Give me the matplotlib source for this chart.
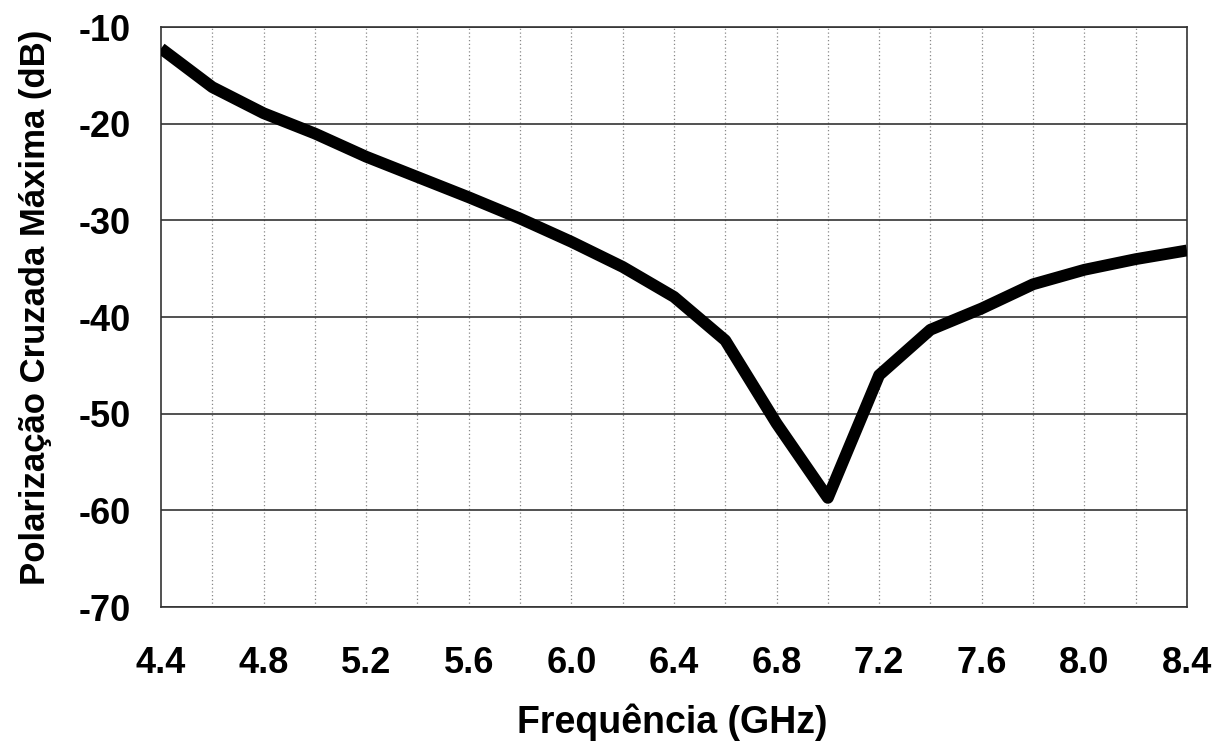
import numpy as np
import matplotlib
matplotlib.use('Agg')
import matplotlib.pyplot as plt

plt.rcParams['font.family'] = ['Liberation Sans', 'DejaVu Sans']
plt.rcParams['font.weight'] = 'bold'
plt.rcParams['axes.unicode_minus'] = False

# frequencia (GHz) e polarizacao cruzada maxima (dB)
freq = [4.4, 4.6, 4.8, 5.0, 5.2, 5.4, 5.6, 5.8, 6.0, 6.2, 6.4,
        6.6, 6.8, 7.0, 7.2, 7.4, 7.6, 7.8, 8.0, 8.2, 8.4]
xpol = [-12.2, -16.2, -18.9, -21.0, -23.4, -25.5, -27.6, -29.8, -32.2, -34.8, -37.9,
        -42.4, -51.0, -58.7, -46.0, -41.3, -39.1, -36.6, -35.1, -34.0, -33.1]

x_ticks = [4.4, 4.8, 5.2, 5.6, 6.0, 6.4, 6.8, 7.2, 7.6, 8.0, 8.4]
y_ticks = [-70, -60, -50, -40, -30, -20, -10]

fig = plt.figure(figsize=(12.17, 7.56), dpi=100)
ax = fig.add_axes([0.1323, 0.197, 0.8430, 0.767])

# grade vertical pontilhada a cada 0.2 GHz
for xv in np.arange(4.6, 8.4, 0.2):
    ax.axvline(xv, color='#888888', linestyle=(0, (1, 2)), linewidth=0.9, zorder=1)
for yv in y_ticks:
    ax.axhline(yv, color='#333333', linewidth=1.2, zorder=1)

ax.plot(freq, xpol, color='black', linewidth=8.5, solid_joinstyle='round',
        solid_capstyle='butt', zorder=3)

ax.set_xlim(4.4, 8.4)
ax.set_ylim(-70, -10)
ax.set_xticks(x_ticks)
ax.set_xticklabels([f'{v:.1f}' for v in x_ticks])
ax.set_yticks(y_ticks)
ax.tick_params(length=0, labelsize=26)
ax.tick_params(axis='x', pad=28)
ax.tick_params(axis='y', pad=22)
for lab in ax.get_xticklabels() + ax.get_yticklabels():
    lab.set_fontweight('bold')

for sp in ax.spines.values():
    sp.set_color('#333333')
    sp.set_linewidth(1.2)

ax.set_xlabel('Frequência (GHz)', fontsize=27, fontweight='bold', va='center')
ax.xaxis.set_label_coords(0.498, -(722 - 607) / 580)
ax.set_ylabel('Polarização Cruzada Máxima (dB)', fontsize=25, fontweight='bold',
              va='center', ha='center')
ax.yaxis.set_label_coords((35 - 161) / 1026, (607 - 307) / 580)

fig.savefig('out.png', dpi=100)
